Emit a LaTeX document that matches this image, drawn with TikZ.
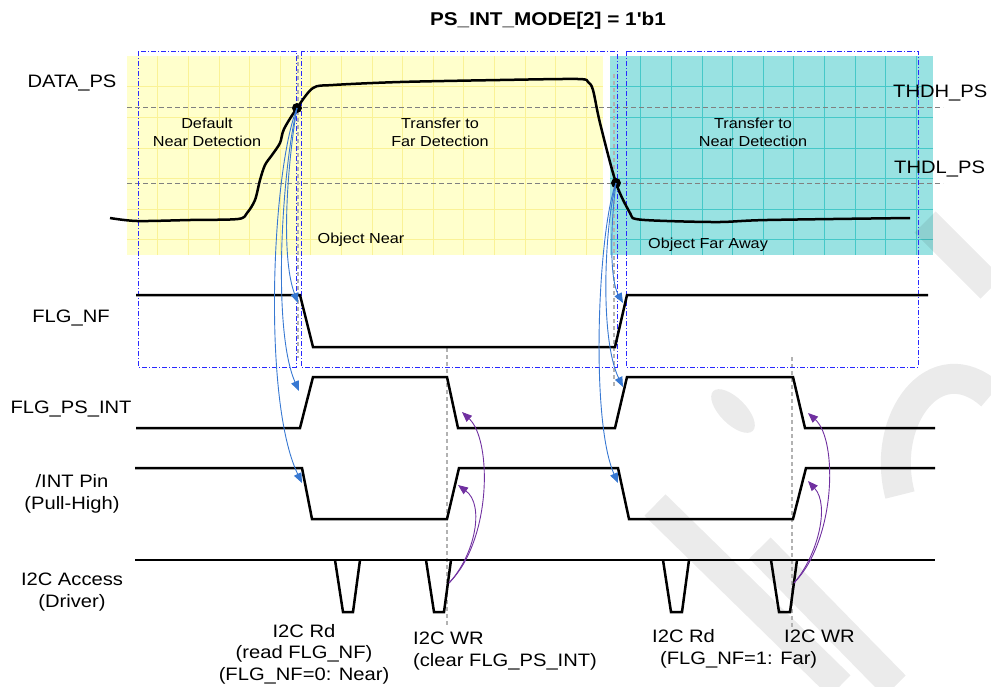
\documentclass[tikz,border=0pt]{standalone}
\usepackage{fontspec}
\setmainfont{Liberation Sans}[FakeStretch=1.12, Ligatures=TeXOff]
\usetikzlibrary{arrows.meta}
\definecolor{nearbg}{RGB}{255,255,204}
\definecolor{neargrid}{RGB}{250,242,150}
\definecolor{farbg}{RGB}{153,226,226}
\definecolor{fargrid}{RGB}{70,200,200}
\definecolor{zoneblue}{RGB}{40,40,255}
\definecolor{trigblue}{RGB}{55,120,210}
\definecolor{drvpurple}{RGB}{112,48,160}
\tikzset{
  sig/.style={line width=2.5pt},
  zone/.style={zoneblue, line width=0.8pt, dash pattern=on 5pt off 2pt on 1pt off 2pt},
  thd/.style={gray, line width=0.8pt, dash pattern=on 5pt off 3pt},
  guide/.style={black!30, line width=1.5pt, dash pattern=on 4pt off 3pt},
  trig/.style={trigblue, line width=0.9pt, -{Triangle[length=10pt,width=8pt]}},
  drv/.style={drvpurple, line width=0.9pt, -{Triangle[length=10pt,width=8pt]}},
  lbl/.style={font=\fontsize{18}{21.5}\selectfont, align=center, anchor=base, inner sep=0pt},
  note/.style={font=\fontsize{14.5}{18}\selectfont, align=center, anchor=base, inner sep=0pt},
  wm/.style={black, opacity=0.08, line width=30pt}
}

\begin{document}
\begin{tikzpicture}[x=1pt,y=-1pt]
\useasboundingbox (0,0) rectangle (991,686);
% near / far zones with grid
\fill[nearbg] (127,56) rectangle (603,255);
\fill[farbg] (610,56) rectangle (933,255);
\foreach \k in {1,...,15} \draw[neargrid] (127+\k*30.6,56) -- (127+\k*30.6,255);
\foreach \k in {1,...,6} \draw[neargrid] (127,56+\k*30.6) -- (603,56+\k*30.6);
\foreach \k in {1,...,10} \draw[fargrid] (610+\k*30.6,56) -- (610+\k*30.6,255);
\foreach \k in {1,...,6} \draw[fargrid] (610,56+\k*30.6) -- (933,56+\k*30.6);
% watermark
\draw[wm] (925,222) -- (991,288);
\draw[wm] (991,395) .. controls (935,345) and (880,420) .. (900,495);
\fill[wm] (733,411) circle[x radius=28pt, y radius=13pt, rotate=-45];
\draw[wm] (655,505) -- (840,686);
\draw[wm] (760,548) -- (895,686);
% thresholds
\draw[thd] (127,107) -- (943,107);
\draw[thd] (127,183) -- (943,183);
% guides
\draw[guide] (298,55) -- (298,358);
\draw[guide] (614,74) -- (614,388);
\draw[guide] (447,348) -- (447,625);
\draw[guide] (792,357) -- (792,627);
% frames
\draw[zone] (138,51) rectangle (296,367);
\draw[zone] (301,51) rectangle (617,367);
\draw[zone] (626,51) rectangle (918,367);
% waveforms
\draw[sig] (136,295) -- (300,295) -- (313,347) -- (615,347) -- (627,295) -- (928,295); % FLG_NF
\draw[sig] (136,428) -- (300,428) -- (313,377) -- (447,377) -- (458,428) -- (615,428)
  -- (627,377) -- (793,377) -- (805,428) -- (935,428); % FLG_PS_INT
\draw[sig] (135,468) -- (302,468) -- (312,519) -- (447,519) -- (459,468) -- (618,468)
  -- (629,519) -- (793,519) -- (806,468) -- (935,468); % /INT
\draw[sig] (135,560) -- (935,560); % I2C
\foreach \a/\b in {335/360, 426/451, 663/689, 771/797}
  \draw[sig] (\a,560) -- (\a+8,612) -- (\b-7,612) -- (\b,560);
% DATA_PS
\draw[sig, line join=round] plot[smooth, tension=0.5] coordinates {(110,218) (137,221) (190,220) (238,219)
  (247,213) (255,200) (260,180) (265,165) (272,155) (280,143) (284,129) (297,108) (313,88) (333,85)
  (400,82) (500,80) (578,79) (588,82) (593,90) (600,123) (616,183) (630,213) (636,219) (667,221)
  (720,222) (767,220) (910,218)};
\coordinate (hit1) at (297,108);
\coordinate (hit2) at (616,183);
\fill (hit1) circle[radius=5pt];
\fill (hit2) circle[radius=5pt];
% trigger arrows
\coordinate (nf1) at (298,303);
\coordinate (int1) at (299,391);
\coordinate (pin1) at (302,483);
\coordinate (nf2) at (623,303);
\coordinate (int2) at (623,387);
\coordinate (pin2) at (618,483);
\draw[trig] (hit1) .. controls (288,160) and (280,255) .. (nf1);
\draw[trig] (hit1) .. controls (282,170) and (272,330) .. (int1);
\draw[trig] (hit1) .. controls (272,170) and (262,400) .. (pin1);
\draw[trig] (hit2) .. controls (610,230) and (610,280) .. (nf2);
\draw[trig] (hit2) .. controls (604,230) and (600,340) .. (int2);
\draw[trig] (hit2) .. controls (598,230) and (590,420) .. (pin2);
% driver writes
\coordinate (wr1) at (449,583);
\coordinate (wr2) at (794,583);
\coordinate (clr1) at (462,412);
\coordinate (rel1) at (458,485);
\coordinate (clr2) at (808,413);
\coordinate (rel2) at (808,481);
\draw[drv] (wr1) .. controls (475,555) and (485,505) .. (rel1);
\draw[drv] (wr1) .. controls (492,540) and (492,440) .. (clr1);
\draw[drv] (wr2) .. controls (818,555) and (830,505) .. (rel2);
\draw[drv] (wr2) .. controls (836,540) and (838,440) .. (clr2);
% labels
\node[lbl, font=\fontsize{18.5}{22}\selectfont\bfseries] (title) at (548,25) {PS\_INT\_MODE[2] = 1'b1};
\node[lbl] (dataps) at (72,87) {DATA\_PS};
\node[lbl] (flgnf) at (71,322) {FLG\_NF};
\node[lbl] (flgint) at (71,413) {FLG\_PS\_INT};
\node[lbl] (intpin) at (72,509) {/INT Pin\\(Pull-High)};
\node[lbl] (i2c) at (72,607) {I2C Access\\(Driver)};
\node[lbl, anchor=base west] (thdh) at (893,97) {THDH\_PS};
\node[lbl, anchor=base west] (thdl) at (894,173) {THDL\_PS};
\node[note] (dflt) at (207,146) {Default\\Near Detection};
\node[note] (tofar) at (440,146) {Transfer to\\Far Detection};
\node[note] (tonear) at (753,146) {Transfer to\\Near Detection};
\node[note] (objnear) at (361,243) {Object Near};
\node[note] (objfar) at (708,248) {Object Far Away};
\node[lbl] (rd1) at (304,680) {I2C Rd\\(read FLG\_NF)\\(FLG\_NF=0: Near)};
\node[lbl, align=left, anchor=base west] (wrl1) at (413,666) {I2C WR\\(clear FLG\_PS\_INT)};
\node[lbl, anchor=base west] (rd2) at (652,642) {I2C Rd};
\node[lbl, anchor=base west] (rd2b) at (660,664) {(FLG\_NF=1: Far)};
\node[lbl, anchor=base west] (wrl2) at (784,642) {I2C WR};
\end{tikzpicture}
\end{document}
